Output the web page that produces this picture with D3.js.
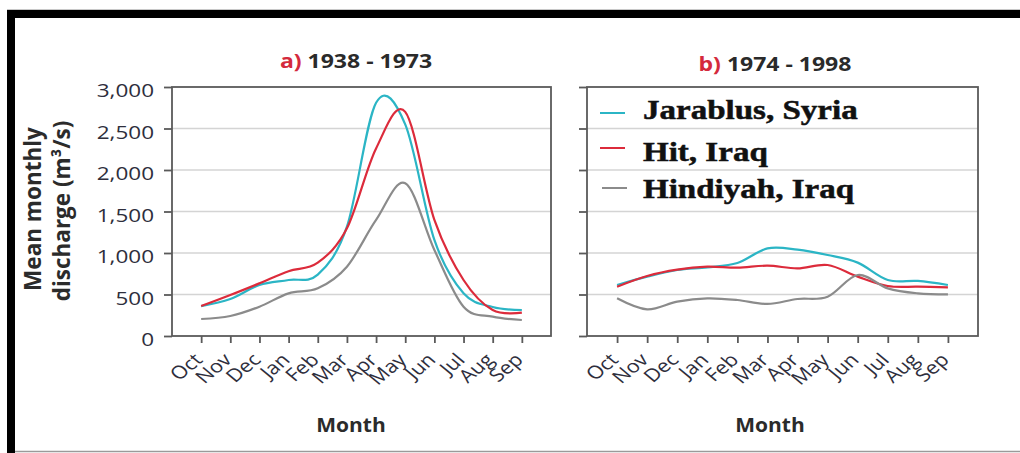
<!DOCTYPE html>
<html>
<head>
<meta charset="utf-8">
<script src="https://cdn.jsdelivr.net/npm/d3@7"></script>
<style>
  body { margin: 0; background: #fff; }
  svg { display: block; font-family: "Open Sans", sans-serif; }
</style>
</head>
<body>
<script>
// months of the water year
const months = ["Oct", "Nov", "Dec", "Jan", "Feb", "Mar", "Apr", "May", "Jun", "Jul", "Aug", "Sep"];
const yTicks = [0, 500, 1000, 1500, 2000, 2500, 3000];
const seriesNames = ["Jarablus, Syria", "Hit, Iraq", "Hindiyah, Iraq"];
const colors = ["#2bb5c5", "#dc2b3b", "#8b8b8b"];

// a) 1938 - 1973
const jarablusA = [360, 445, 615, 675, 740, 1317, 2810, 2550, 1157, 514, 350, 313];
const hitA = [361, 494, 635, 780, 883, 1297, 2260, 2700, 1398, 675, 313, 281];
const hindiyahA = [205, 241, 353, 514, 574, 835, 1398, 1840, 1036, 353, 233, 193];

// b) 1974 - 1998
const jarablusB = [614, 715, 795, 827, 880, 1055, 1040, 976, 884, 675, 663, 614];
const hitB = [594, 723, 800, 835, 823, 847, 815, 855, 715, 602, 594, 586];
const hindiyahB = [454, 321, 414, 454, 434, 386, 446, 474, 735, 574, 514, 502];

const W = 1020, H = 453;
const svg = d3.select("body").append("svg").attr("width", W).attr("height", H);

// outer frame
svg.append("line").attr("x1", 7).attr("x2", W).attr("y1", 9.5).attr("y2", 9.5).attr("stroke", "#c8c8c8");
svg.append("line").attr("x1", 7).attr("x2", W).attr("y1", 451.5).attr("y2", 451.5).attr("stroke", "#9a9a9a").attr("stroke-width", 1.5);
svg.append("rect").attr("x", 7).attr("y", 10).attr("width", W - 7).attr("height", 8).attr("fill", "#000");
svg.append("rect").attr("x", 7).attr("y", 10).attr("width", 8).attr("height", H - 10).attr("fill", "#000");

const y = d3.scaleLinear().domain([0, 3000]).range([336, 87]);
const axisCol = "#5a5a5a";
const textCol = "#2e2e3c";

function panel(xr, label, period, showY, data, cx) {
  const x = d3.scalePoint().domain(months).range(xr).padding(1);
  const g = svg.append("g");

  g.selectAll("line.grid").data(yTicks.slice(1, -1)).join("line")
    .attr("class", "grid")
    .attr("x1", xr[0]).attr("x2", xr[1])
    .attr("y1", d => y(d)).attr("y2", d => y(d))
    .attr("stroke", "#d4d4d4").attr("stroke-width", 1.6);

  g.append("rect")
    .attr("x", xr[0]).attr("y", y(3000))
    .attr("width", xr[1] - xr[0]).attr("height", y(0) - y(3000))
    .attr("fill", "none").attr("stroke", axisCol).attr("stroke-width", 1.8);

  const ya = g.append("g").attr("transform", `translate(${xr[0]},0)`)
    .call(d3.axisLeft(y).tickValues(yTicks).tickSize(8).tickFormat(showY ? d3.format(",") : ""))
    .attr("font-size", null).attr("font-family", null);
  ya.select(".domain").remove();
  ya.selectAll("line").attr("stroke", axisCol).attr("stroke-width", 1.8);
  ya.selectAll("text")
    .attr("x", 0).attr("dy", null)
    .attr("transform", "translate(-18,9.5) scale(1.25,1)")
    .attr("font-size", 18).attr("fill", textCol);

  const xa = g.append("g").attr("transform", `translate(0,${y(0)})`)
    .call(d3.axisBottom(x).tickSize(7))
    .attr("font-size", null).attr("font-family", null);
  xa.select(".domain").remove();
  xa.selectAll("line").attr("stroke", axisCol).attr("stroke-width", 1.8);
  xa.selectAll("text")
    .attr("y", 0).attr("dy", null)
    .attr("text-anchor", "end")
    .attr("transform", "translate(2,25) scale(1.2,1) rotate(-45)")
    .attr("font-size", 18).attr("fill", textCol);

  const line = d3.line()
    .x((d, i) => x(months[i]))
    .y(d => y(d))
    .curve(d3.curveCardinal.tension(0));

  data.forEach((s, i) => {
    g.append("path").attr("d", line(s))
      .attr("fill", "none").attr("stroke", colors[i]).attr("stroke-width", 2.2);
  });

  const t = g.append("text")
    .attr("transform", `translate(${cx},${label === "a)" ? 68 : 71}) scale(1.18,1)`)
    .attr("text-anchor", "middle").attr("font-weight", 700).attr("font-size", 19.5);
  t.append("tspan").attr("fill", "#d42a3c").text(label);
  t.append("tspan").attr("fill", "#2a2a2a").text(" " + period);

  g.append("text")
    .attr("transform", `translate(${cx - 5},432) scale(1.05,1)`)
    .attr("text-anchor", "middle").attr("font-weight", 700).attr("font-size", 20)
    .attr("fill", "#2b2b2b").text("Month");
}

panel([172, 551], "a)", "1938 - 1973", true, [jarablusA, hitA, hindiyahA], 356);
panel([587, 978], "b)", "1974 - 1998", false, [jarablusB, hitB, hindiyahB], 775);

// y axis title
svg.append("text").attr("transform", "translate(41,209) rotate(-90)")
  .attr("text-anchor", "middle").attr("font-weight", 700).attr("font-size", 22.5)
  .attr("fill", "#2b2b2b").text("Mean monthly");
svg.append("text").attr("transform", "translate(70,211) rotate(-90)")
  .attr("text-anchor", "middle").attr("font-weight", 700).attr("font-size", 22.5)
  .attr("fill", "#2b2b2b").text("discharge (m³/s)");

// legend
const legY = [113, 148, 188];
const legBase = [119, 161, 198];
const leg = svg.append("g");
seriesNames.forEach((n, i) => {
  leg.append("line").attr("x1", 600 + (i === 2 ? 2 : 0)).attr("x2", 625 + (i === 2 ? 2 : 0))
    .attr("y1", legY[i]).attr("y2", legY[i])
    .attr("stroke", colors[i]).attr("stroke-width", 2);
  leg.append("text").attr("transform", `translate(643,${legBase[i]}) scale(1.18,1)`)
    .attr("font-family", "'Liberation Serif', serif").attr("font-weight", 700)
    .attr("font-size", 28).attr("fill", "#111")
    .attr("stroke", "#111").attr("stroke-width", 0.5)
    .text(n);
});
</script>
</body>
</html>
